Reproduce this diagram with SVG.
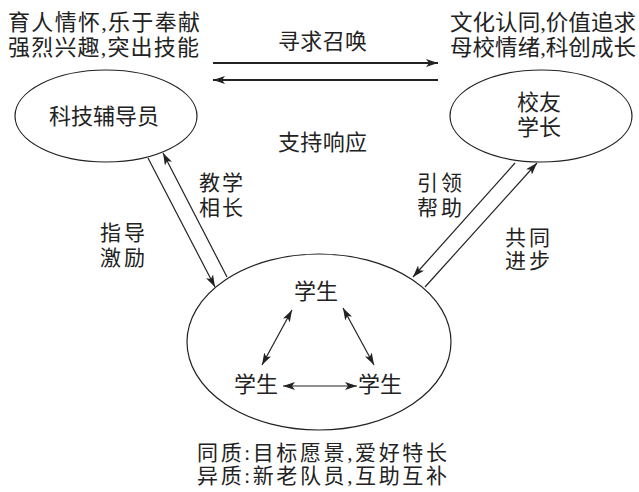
<svg xmlns="http://www.w3.org/2000/svg" width="639" height="492" viewBox="0 0 639 492">
<style>
text{font-family:"Liberation Serif","Noto Sans CJK SC",serif;font-size:22px;fill:#222}
.node ellipse{fill:none;stroke:#222;stroke-width:1.2}
.c line{stroke:#222;stroke-width:1.2;fill:none}
.c line.thick{stroke-width:2}
.lbl{font-size:21px}
</style>
<defs>
<marker id="ah" viewBox="0 0 12 8" refX="12" refY="4" markerWidth="12" markerHeight="8" markerUnits="userSpaceOnUse" orient="auto-start-reverse">
<path d="M0,0 L12,4 L0,8 L3,4 Z" fill="#222"/>
</marker>
</defs>
<rect width="639" height="492" fill="#fff"/>
<g id="text-left-top">
<text x="8" y="30" textLength="192" lengthAdjust="spacing">育人情怀,乐于奉献</text>
<text x="8" y="55" textLength="191" lengthAdjust="spacing">强烈兴趣,突出技能</text>
</g>
<g id="text-right-top">
<text x="450" y="30" textLength="186" lengthAdjust="spacingAndGlyphs">文化认同,价值追求</text>
<text x="450" y="55" textLength="186" lengthAdjust="spacingAndGlyphs">母校情绪,科创成长</text>
</g>
<g id="node-teacher" class="node">
<ellipse cx="106" cy="116" rx="91" ry="46"/>
<text x="104" y="124" text-anchor="middle">科技辅导员</text>
</g>
<g id="node-alumni" class="node">
<ellipse cx="541" cy="116" rx="91" ry="46"/>
<text x="539" y="110" text-anchor="middle">校友</text>
<text x="539" y="135" text-anchor="middle">学长</text>
</g>
<g id="node-students" class="node">
<ellipse cx="319" cy="342" rx="132" ry="88"/>
<text x="316" y="299" text-anchor="middle">学生</text>
<text x="256" y="392" text-anchor="middle">学生</text>
<text x="380" y="392" text-anchor="middle">学生</text>
</g>
<g id="connectors" class="c">
<line class="thick" x1="213" y1="63" x2="438" y2="63" marker-end="url(#ah)"/>
<line class="thick" x1="438" y1="80" x2="213" y2="80" marker-end="url(#ah)"/>
<line x1="148" y1="158" x2="215" y2="287" marker-end="url(#ah)"/>
<line x1="227" y1="277" x2="163" y2="153" marker-end="url(#ah)"/>
<line x1="515" y1="163" x2="413" y2="277" marker-end="url(#ah)"/>
<line x1="425" y1="287" x2="537" y2="163" marker-end="url(#ah)"/>
<line x1="292" y1="310" x2="262" y2="365" marker-start="url(#ah)" marker-end="url(#ah)"/>
<line x1="343" y1="308" x2="374" y2="365" marker-start="url(#ah)" marker-end="url(#ah)"/>
<line x1="283" y1="386" x2="357" y2="386" marker-start="url(#ah)" marker-end="url(#ah)"/>
</g>
<g id="labels">
<text x="278" y="49" textLength="89" lengthAdjust="spacing">寻求召唤</text>
<text x="278" y="150" textLength="89" lengthAdjust="spacing">支持响应</text>
<text class="lbl" x="199" y="190" textLength="44" lengthAdjust="spacing">教学</text>
<text class="lbl" x="199" y="215" textLength="44" lengthAdjust="spacing">相长</text>
<text class="lbl" x="100" y="240" textLength="45" lengthAdjust="spacing">指导</text>
<text class="lbl" x="100" y="265" textLength="45" lengthAdjust="spacing">激励</text>
<text class="lbl" x="417" y="190" textLength="45" lengthAdjust="spacing">引领</text>
<text class="lbl" x="417" y="215" textLength="45" lengthAdjust="spacing">帮助</text>
<text class="lbl" x="505" y="245" textLength="45" lengthAdjust="spacing">共同</text>
<text class="lbl" x="505" y="268" textLength="45" lengthAdjust="spacing">进步</text>
</g>
<g id="text-bottom">
<text class="lbl" x="197" y="460" textLength="250" lengthAdjust="spacing">同质:目标愿景,爱好特长</text>
<text class="lbl" x="197" y="483" textLength="250" lengthAdjust="spacing">异质:新老队员,互助互补</text>
</g>
</svg>
